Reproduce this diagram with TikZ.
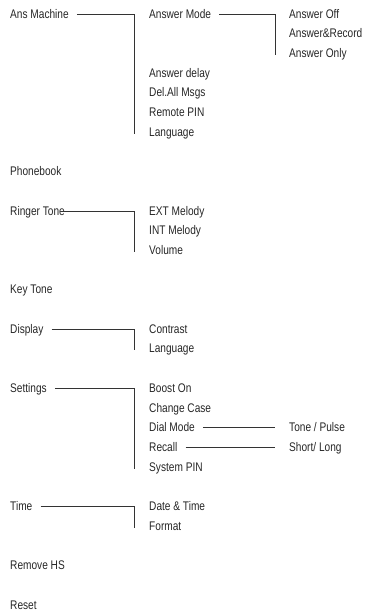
\documentclass[tikz,border=0pt]{standalone}
\usepackage{fontspec}
\setmainfont{Liberation Sans}[FakeStretch=0.81]
\usepackage{tikz}
\usetikzlibrary{calc, positioning}

\begin{document}
\begin{tikzpicture}[x=1pt, y=-1pt,
    item/.style={anchor=base west, inner sep=0pt, text=black!85,
                 font=\fontsize{12.5}{15}\selectfont},
    link/.style={draw=black!80, line width=0.9pt}]

    \useasboundingbox (0,0) rectangle (367,611);

    % =================================================================
    % 1. FIRST LEVEL OF THE MENU
    % =================================================================
    \node[item] (ansmachine) at (10,18)    {Ans Machine};
    \node[item] (phonebook)  at (10,175.6) {Phonebook};
    \node[item] (ringer)     at (10,215)   {Ringer Tone};
    \node[item] (keytone)    at (10,293.8) {Key Tone};
    \node[item] (display)    at (10,333.2) {Display};
    \node[item] (settings)   at (10,392.3) {Settings};
    \node[item] (time)       at (10,510.5) {Time};
    \node[item] (removehs)   at (10,569.6) {Remove HS};
    \node[item] (reset)      at (10,609)   {Reset};

    % =================================================================
    % 2. SECOND LEVEL
    % =================================================================
    \node[item] (ansmode)   at (149,18)    {Answer Mode};
    \node[item] (ansdelay)  at (149,77.1)  {Answer delay};
    \node[item] (delall)    at (149,96.8)  {Del.All Msgs};
    \node[item] (remotepin) at (149,116.5) {Remote PIN};
    \node[item] (anslang)   at (149,136.2) {Language};

    \node[item] (extmel) at (149,215)   {EXT Melody};
    \node[item] (intmel) at (149,234.7) {INT Melody};
    \node[item] (volume) at (149,254.4) {Volume};

    \node[item] (contrast) at (149,333.2) {Contrast};
    \node[item] (displang) at (149,352.9) {Language};

    \node[item] (boost)    at (149,392.3) {Boost On};
    \node[item] (chcase)   at (149,412)   {Change Case};
    \node[item] (dialmode) at (149,431.7) {Dial Mode};
    \node[item] (recall)   at (149,451.4) {Recall};
    \node[item] (syspin)   at (149,471.1) {System PIN};

    \node[item] (datetime) at (149,510.5) {Date \& Time};
    \node[item] (format)   at (149,530.2) {Format};

    % =================================================================
    % 3. THIRD LEVEL
    % =================================================================
    \node[item] (ansoff)    at (289,18)    {Answer Off};
    \node[item] (ansrecord) at (289,37.7)  {Answer\&Record};
    \node[item] (ansonly)   at (289,57.4)  {Answer Only};

    \node[item] (tonepulse) at (289,431.7) {Tone / Pulse};
    \node[item] (shortlong) at (289,451.4) {Short/ Long};

    % =================================================================
    % 4. CONNECTORS
    % =================================================================
    \draw[link] ([shift={(8pt,4pt)}]ansmachine.base east)
        -- ([shift={(-15pt,4pt)}]ansmode.base west)
        -- ([shift={(-15pt,2.5pt)}]anslang.base west);
    \draw[link] ([shift={(8pt,4pt)}]ansmode.base east)
        -- ([shift={(-14pt,4pt)}]ansoff.base west)
        -- ([shift={(-14pt,2.5pt)}]ansonly.base west);
    \draw[link] ([shift={(-4pt,4pt)}]ringer.base east)
        -- ([shift={(-15pt,4pt)}]extmel.base west)
        -- ([shift={(-15pt,2.5pt)}]volume.base west);
    \draw[link] ([shift={(8pt,4pt)}]display.base east)
        -- ([shift={(-15pt,4pt)}]contrast.base west)
        -- ([shift={(-15pt,2.5pt)}]displang.base west);
    \draw[link] ([shift={(8pt,4pt)}]settings.base east)
        -- ([shift={(-15pt,4pt)}]boost.base west)
        -- ([shift={(-15pt,2.5pt)}]syspin.base west);
    \draw[link] ([shift={(8pt,4pt)}]time.base east)
        -- ([shift={(-15pt,4pt)}]datetime.base west)
        -- ([shift={(-15pt,2.5pt)}]format.base west);

    % Dial Mode and Recall lead straight on to one entry each
    \draw[link] ([shift={(8pt,4pt)}]dialmode.base east)
        -- ([shift={(-14pt,4pt)}]tonepulse.base west);
    \draw[link] ([shift={(8pt,4pt)}]recall.base east)
        -- ([shift={(-14pt,4pt)}]shortlong.base west);

\end{tikzpicture}
\end{document}
